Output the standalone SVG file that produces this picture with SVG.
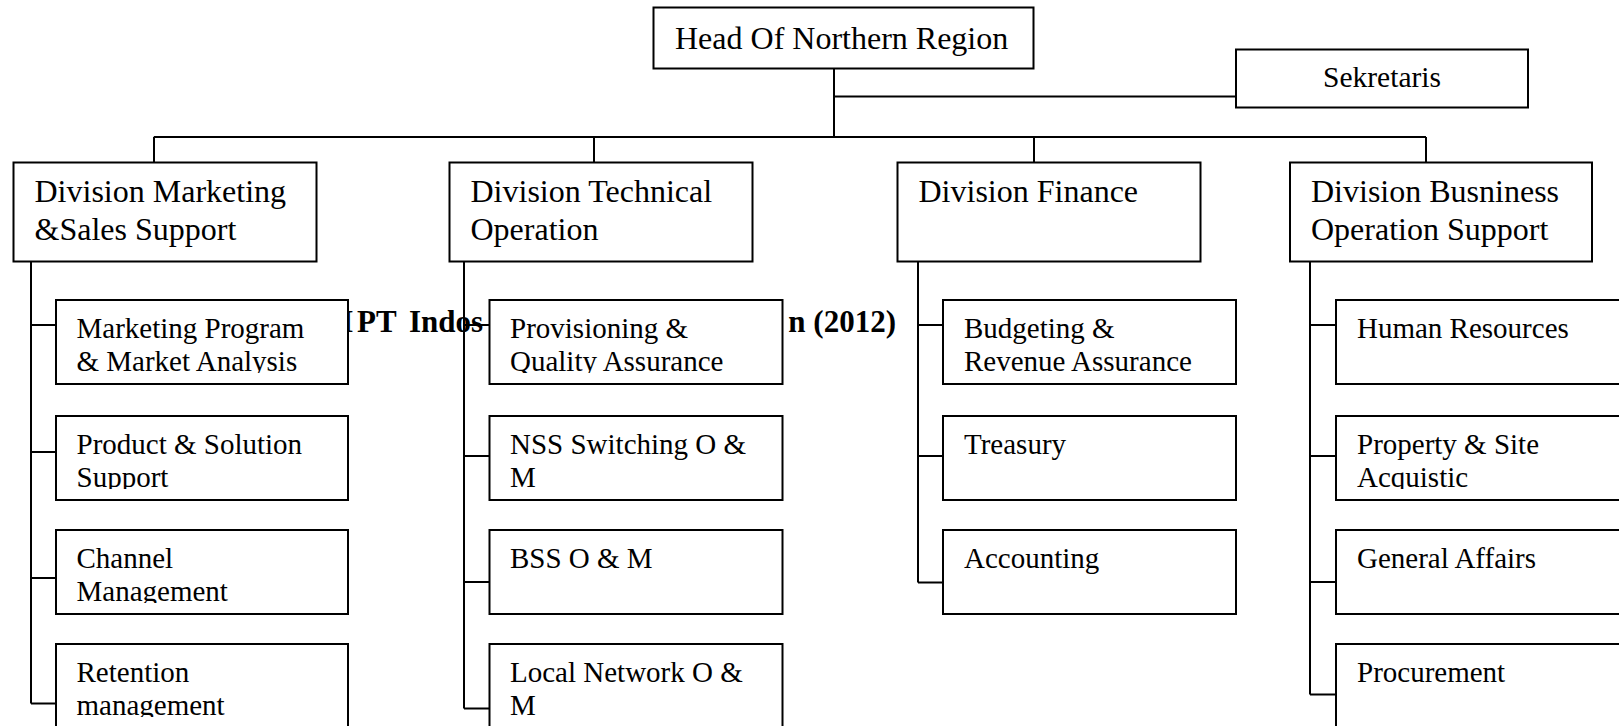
<svg xmlns="http://www.w3.org/2000/svg" width="1619" height="726" viewBox="0 0 1619 726">
<style>
.box{fill:#fff;stroke:#000;stroke-width:2}
.ln{fill:none;stroke:#000;stroke-width:2}
.t{font-family:"Liberation Serif","Times New Roman",serif;fill:#000}
.h{font-size:32px}
.s{font-size:29px}
.sek{font-size:29.5px}
.cap{font-family:"Liberation Serif","Times New Roman",serif;font-size:31px;font-weight:bold;fill:#000}
</style>
<defs>
<clipPath id="r1" clipPathUnits="userSpaceOnUse"><rect x="0" y="300" width="1619" height="73"/></clipPath>
<clipPath id="r2" clipPathUnits="userSpaceOnUse"><rect x="0" y="416" width="1619" height="73"/></clipPath>
<clipPath id="r3" clipPathUnits="userSpaceOnUse"><rect x="0" y="530" width="1619" height="73"/></clipPath>
<clipPath id="r4" clipPathUnits="userSpaceOnUse"><rect x="0" y="644" width="1619" height="73"/></clipPath>
</defs>
<rect width="1619" height="726" fill="#fff"/>

<g id="caption">
<text class="cap" x="324" y="331.5">M <tspan x="357">PT</tspan> <tspan x="409">Indos</tspan></text>
<text class="cap" x="896" y="331.5" text-anchor="end">n (2012)</text>
</g>

<g id="connectors">
<path class="ln" d="M834,68.5V137M834,96.5H1236M153.8,137H1426"/>
<path class="ln" d="M154,137V162.5M594,137V162.5M1034,137V162.5M1426,137V162.5"/>
<path class="ln" d="M31,261.5V703.5M31,325H56M31,452H56M31,578H56M31,703.5H56"/>
<path class="ln" d="M464,261.5V708.5M464,325H489.5M464,456H489.5M464,582H489.5M464,708.5H489.5"/>
<path class="ln" d="M918,261.5V582.5M918,325H943M918,456H943M918,582.5H943"/>
<path class="ln" d="M1310,261.5V694.5M1310,325H1336M1310,456H1336M1310,582H1336M1310,694.5H1336"/>
</g>

<g id="head">
<rect class="box" x="653.5" y="7.5" width="380" height="61"/>
<text class="t h" x="675" y="49">Head Of Northern Region</text>
</g>
<g id="sekretaris">
<rect class="box" x="1236" y="49.5" width="292" height="58"/>
<text class="t sek" x="1382" y="87" text-anchor="middle">Sekretaris</text>
</g>

<g id="div-marketing">
<rect class="box" x="13.5" y="162.5" width="303" height="99"/>
<text class="t h" x="34.5" y="202">Division Marketing</text>
<text class="t h" x="34.5" y="239.5">&amp;Sales Support</text>
</g>
<g id="div-technical">
<rect class="box" x="449.5" y="162.5" width="303" height="99"/>
<text class="t h" x="470.5" y="202">Division Technical</text>
<text class="t h" x="470.5" y="239.5">Operation</text>
</g>
<g id="div-finance">
<rect class="box" x="897.5" y="162.5" width="303" height="99"/>
<text class="t h" x="918.5" y="202">Division Finance</text>
</g>
<g id="div-business">
<rect class="box" x="1290" y="162.5" width="302" height="99"/>
<text class="t h" x="1311" y="202">Division Busniness</text>
<text class="t h" x="1311" y="239.5">Operation Support</text>
</g>

<g id="marketing-program">
<rect class="box" x="56" y="300" width="292" height="84"/>
<g clip-path="url(#r1)"><text class="t s" x="76.5" y="337.5">Marketing Program</text><text class="t s" x="76.5" y="371">&amp; Market Analysis</text></g>
</g>
<g id="product-solution">
<rect class="box" x="56" y="416" width="292" height="84"/>
<g clip-path="url(#r2)"><text class="t s" x="76.5" y="453.5">Product &amp; Solution</text><text class="t s" x="76.5" y="487">Support</text></g>
</g>
<g id="channel-management">
<rect class="box" x="56" y="530" width="292" height="84"/>
<g clip-path="url(#r3)"><text class="t s" x="76.5" y="567.5">Channel</text><text class="t s" x="76.5" y="601">Management</text></g>
</g>
<g id="retention-management">
<rect class="box" x="56" y="644" width="292" height="100"/>
<g clip-path="url(#r4)"><text class="t s" x="76.5" y="681.5">Retention</text><text class="t s" x="76.5" y="715">management</text></g>
</g>

<g id="provisioning">
<rect class="box" x="489.5" y="300" width="293" height="84"/>
<g clip-path="url(#r1)"><text class="t s" x="510" y="337.5">Provisioning &amp;</text><text class="t s" x="510" y="371">Quality Assurance</text></g>
</g>
<g id="nss-switching">
<rect class="box" x="489.5" y="416" width="293" height="84"/>
<g clip-path="url(#r2)"><text class="t s" x="510" y="453.5">NSS Switching O &amp;</text><text class="t s" x="510" y="487">M</text></g>
</g>
<g id="bss">
<rect class="box" x="489.5" y="530" width="293" height="84"/>
<g clip-path="url(#r3)"><text class="t s" x="510" y="567.5">BSS O &amp; M</text></g>
</g>
<g id="local-network">
<rect class="box" x="489.5" y="644" width="293" height="100"/>
<g clip-path="url(#r4)"><text class="t s" x="510" y="681.5">Local Network O &amp;</text><text class="t s" x="510" y="715">M</text></g>
</g>

<g id="budgeting">
<rect class="box" x="943" y="300" width="293" height="84"/>
<g clip-path="url(#r1)"><text class="t s" x="964" y="337.5">Budgeting &amp;</text><text class="t s" x="964" y="371">Revenue Assurance</text></g>
</g>
<g id="treasury">
<rect class="box" x="943" y="416" width="293" height="84"/>
<g clip-path="url(#r2)"><text class="t s" x="964" y="453.5">Treasury</text></g>
</g>
<g id="accounting">
<rect class="box" x="943" y="530" width="293" height="84"/>
<g clip-path="url(#r3)"><text class="t s" x="964" y="567.5">Accounting</text></g>
</g>

<g id="human-resources">
<rect class="box" x="1336" y="300" width="314" height="84"/>
<g clip-path="url(#r1)"><text class="t s" x="1357" y="337.5">Human Resources</text></g>
</g>
<g id="property-site">
<rect class="box" x="1336" y="416" width="314" height="84"/>
<g clip-path="url(#r2)"><text class="t s" x="1357" y="453.5">Property &amp; Site</text><text class="t s" x="1357" y="487">Acquistic</text></g>
</g>
<g id="general-affairs">
<rect class="box" x="1336" y="530" width="314" height="84"/>
<g clip-path="url(#r3)"><text class="t s" x="1357" y="567.5">General Affairs</text></g>
</g>
<g id="procurement">
<rect class="box" x="1336" y="644" width="314" height="100"/>
<g clip-path="url(#r4)"><text class="t s" x="1357" y="681.5">Procurement</text></g>
</g>
</svg>
